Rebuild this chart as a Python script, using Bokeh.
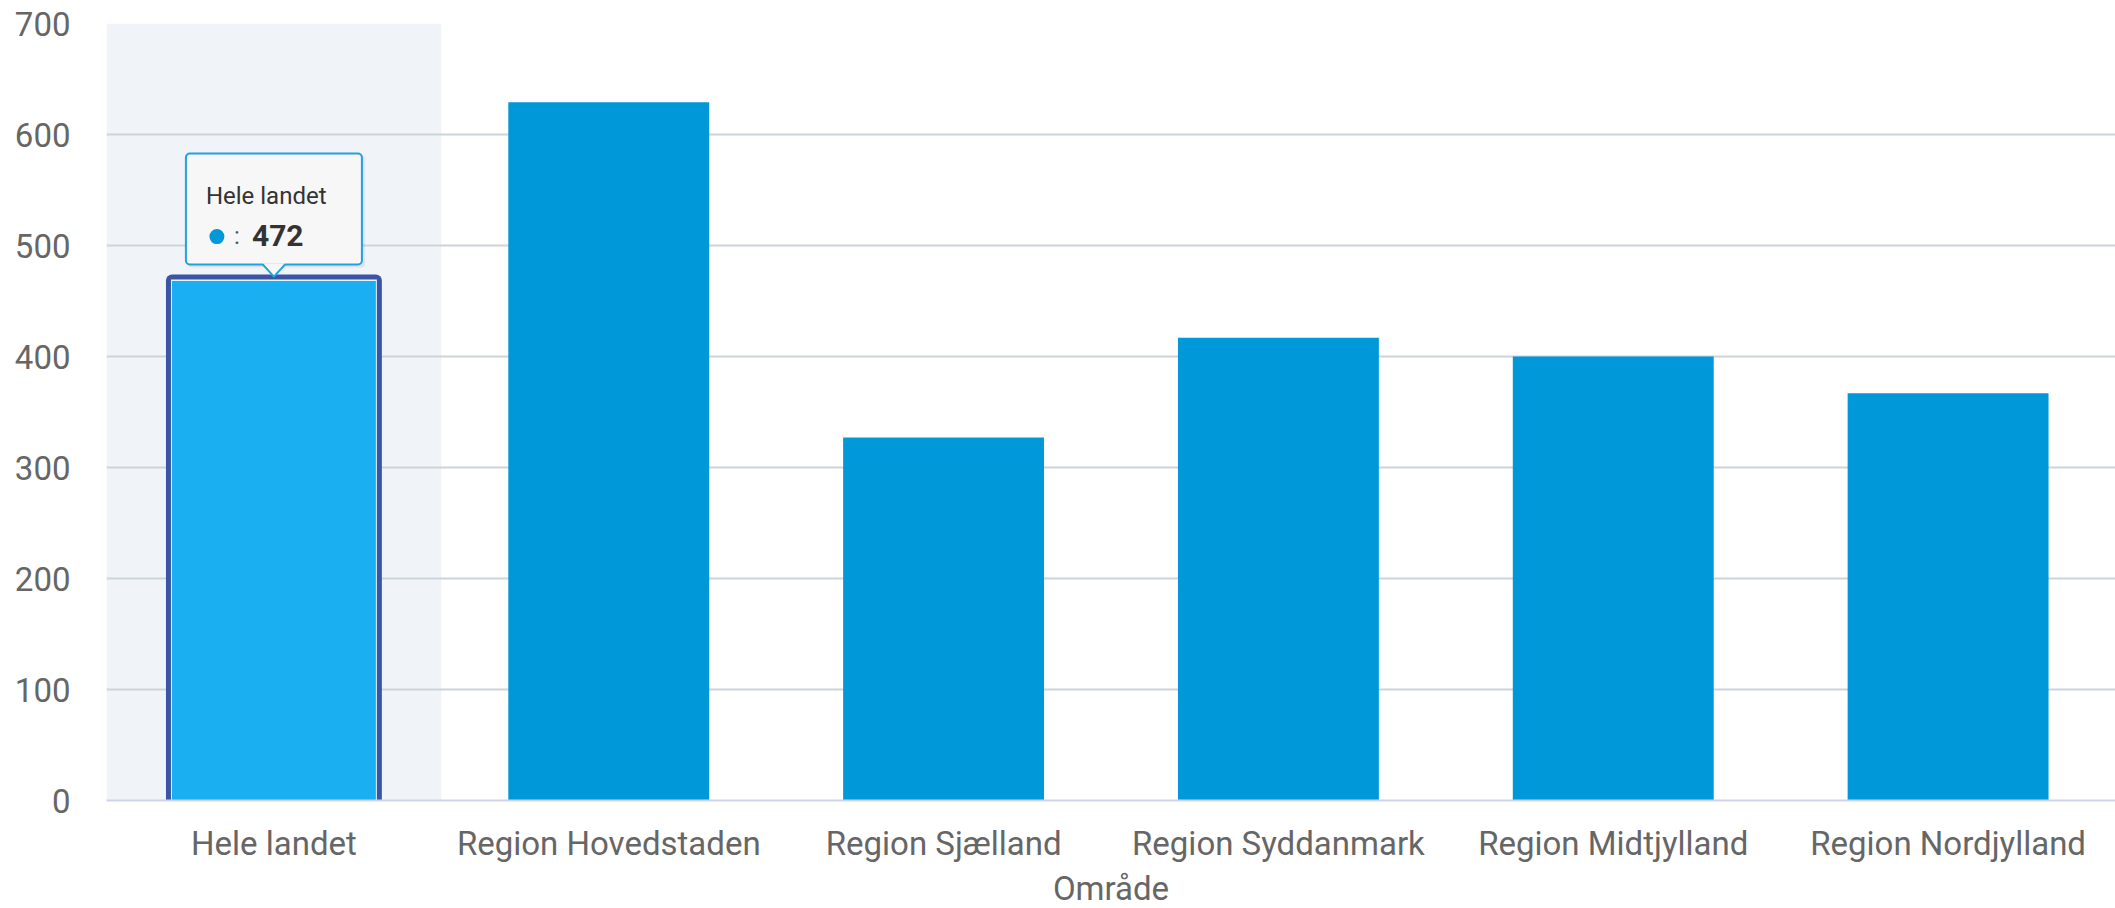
from bokeh.plotting import figure
from bokeh.models import FactorRange, Range1d, FixedTicker, Title
from bokeh.core.properties import value
from bokeh.embed import file_html
from bokeh.resources import INLINE

# ---- data ----
categories = ["Hele landet", "Region Hovedstaden", "Region Sjælland",
              "Region Syddanmark", "Region Midtjylland", "Region Nordjylland"]
values = [472, 629, 327, 417, 400, 367]
y_ticks = [0, 100, 200, 300, 400, 500, 600, 700]
x_axis_title = "Område"
highlight_index = 0
tooltip_title = categories[highlight_index]
tooltip_value = str(values[highlight_index])

# ---- layout ----
W, H = 2115, 908
LEFT, TOP, BOTTOM, RIGHT = 106, 23, 108, 0
FONT = "Roboto"
BAR_COLOR = "#0098d9"
HL_COLOR = "#1aaff0"
HL_BORDER = "#3b55a6"
BAND = "#f0f4f9"
LABEL_COLOR = "#666666"

p = figure(x_range=FactorRange(*categories, range_padding=0),
           y_range=Range1d(y_ticks[0], y_ticks[-1]),
           width=W, height=H, output_backend="svg", toolbar_location=None,
           min_border_left=LEFT, min_border_right=RIGHT,
           min_border_top=TOP, min_border_bottom=BOTTOM)
p.outline_line_color = None
p.background_fill_color = "white"
p.border_fill_color = "white"

frame_w = W - LEFT - RIGHT
frame_h = H - TOP - BOTTOM
cat_px = frame_w / len(categories)
unit_px = frame_h / (y_ticks[-1] - y_ticks[0])

def dx(px):
    return px / cat_px

def dy(px):
    return px / unit_px

# hover band behind the highlighted category
p.vbar(x=[categories[highlight_index]], top=[y_ticks[-1]], bottom=y_ticks[0], width=1.0,
       fill_color=BAND, line_color=None, level="image")

# grid
p.xgrid.grid_line_color = None
p.ygrid.ticker = FixedTicker(ticks=y_ticks)
p.ygrid.grid_line_color = "#cbd3db"
p.ygrid.grid_line_width = 2

# normal bars
others_x = [c for i, c in enumerate(categories) if i != highlight_index]
others_v = [v for i, v in enumerate(values) if i != highlight_index]
p.vbar(x=others_x, top=others_v, width=0.6, fill_color=BAR_COLOR, line_color=None)

# highlighted bar (hover state)
hc = categories[highlight_index]
hv = values[highlight_index]
p.vbar(x=[hc], top=[hv + dy(2)], width=0.6 + dx(15), fill_color=HL_BORDER,
       line_color=None, border_radius=(6, 6, 0, 0))
p.vbar(x=[hc], top=[hv - dy(3)], width=0.6 + dx(5), fill_color="#e6f6fd", line_color=None)
p.vbar(x=[hc], top=[hv - dy(4.5)], width=0.6 + dx(3), fill_color=HL_COLOR, line_color=None)

# axes
yax = p.yaxis[0]
yax.ticker = FixedTicker(ticks=y_ticks)
yax.axis_line_color = None
yax.major_tick_line_color = None
yax.minor_tick_line_color = None
yax.major_tick_out = 0
yax.major_tick_in = 0
yax.major_label_standoff = 36
yax.major_label_text_font = FONT
yax.major_label_text_font_size = "33px"
yax.major_label_text_color = LABEL_COLOR

xax = p.xaxis[0]
xax.axis_line_color = "#ccd6eb"
xax.axis_line_width = 2
xax.major_tick_line_color = None
xax.major_tick_out = 0
xax.major_tick_in = 0
xax.major_label_standoff = 23
xax.major_label_text_font = FONT
xax.major_label_text_font_size = "33px"
xax.major_label_text_color = LABEL_COLOR

# axis title placed under the tick labels
p.add_layout(Title(text=x_axis_title, align="center", offset=18, standoff=2,
                   text_font=FONT, text_font_size="33px", text_font_style="normal",
                   text_color=LABEL_COLOR), "below")

# tooltip
hx = highlight_index + 0.5
box_bottom = hv + dy(12)
box_top = box_bottom + dy(111)
half_w = dx(88)
# shadow
p.quad(left=[hx - half_w + dx(2)], right=[hx + half_w + dx(3)],
       bottom=[box_bottom - dy(3)], top=[box_top - dy(2)],
       fill_color="black", fill_alpha=0.07, line_color=None, border_radius=4)
p.quad(left=[hx - half_w], right=[hx + half_w], bottom=[box_bottom], top=[box_top],
       fill_color="#f7f7f7", line_color="#1fa2dd", line_width=2, border_radius=4)
tip_y = hv + dy(0)
p.patch(x=[hx - dx(11), hx + dx(11), hx], y=[box_bottom + dy(1.3), box_bottom + dy(1.3), tip_y],
        fill_color="#f7f7f7", line_color=None)
p.line(x=[hx - dx(11), hx, hx + dx(11)], y=[box_bottom, tip_y, box_bottom],
       line_color="#1fa2dd", line_width=2)

p.text(x=[hx - dx(68)], y=[box_bottom + dy(69)], text=[tooltip_title],
       text_font=value(FONT), text_font_size="24px", text_color="#333333",
       text_baseline="alphabetic", text_align="left")
p.scatter(x=[hx - dx(57)], y=[box_bottom + dy(28)], size=15, marker="circle",
          fill_color=BAR_COLOR, line_color=None)
p.text(x=[hx - dx(40)], y=[box_bottom + dy(29)], text=[":"],
       text_font=value(FONT), text_font_size="24px", text_color="#555555",
       text_baseline="alphabetic", text_align="left")
p.text(x=[hx - dx(22)], y=[box_bottom + dy(29)], text=[tooltip_value],
       text_font=value(FONT), text_font_size="30px", text_font_style="bold",
       text_color="#333333", text_baseline="alphabetic", text_align="left")

open("out.html", "w").write(file_html(p, INLINE))
